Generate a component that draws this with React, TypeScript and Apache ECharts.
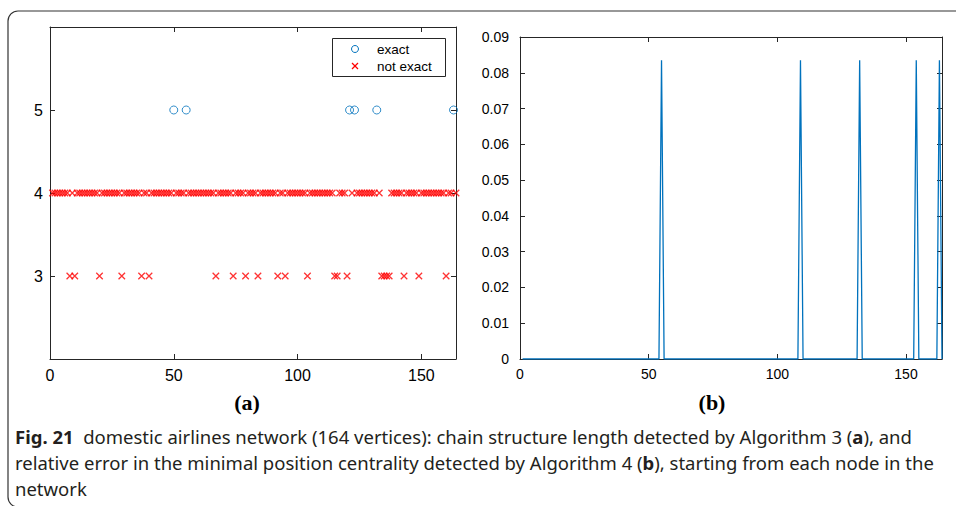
import React, { useEffect, useRef } from "react";
import * as echarts from "echarts";

// x-axis tick labels shared by both panels
const xTickValues = [0, 50, 100, 150];
const yTicksA = [3, 4, 5];

// (a) chain structure length detected from each node (nodes 1..164)
const chainLength = [
  4, 4, 4, 4, 4, 4, 4, 3, 4, 3,
  4, 4, 4, 4, 4, 4, 4, 4, 4, 3,
  4, 4, 4, 4, 4, 4, 4, 4, 3, 4,
  4, 4, 4, 4, 4, 4, 3, 4, 4, 3,
  4, 4, 4, 4, 4, 4, 4, 4, 4, 5,
  4, 4, 4, 4, 5, 4, 4, 4, 4, 4,
  4, 4, 4, 4, 4, 4, 3, 4, 4, 4,
  4, 4, 4, 3, 4, 4, 4, 4, 3, 4,
  4, 4, 4, 3, 4, 4, 4, 4, 4, 4,
  4, 3, 4, 4, 3, 4, 4, 4, 4, 4,
  4, 4, 4, 3, 4, 4, 4, 4, 4, 4,
  4, 4, 4, 4, 3, 3, 4, 4, 4, 3,
  5, 4, 5, 4, 4, 4, 4, 4, 4, 4,
  4, 5, 4, 3, 3, 3, 3, 4, 4, 4,
  4, 4, 3, 4, 4, 4, 4, 4, 3, 4,
  4, 4, 4, 4, 4, 4, 4, 4, 4, 3,
  4, 4, 5, 4,
];
// nodes whose detected chain length is exact
const exactNodes = [50, 55, 121, 123, 132, 163];

// (b) relative error in the minimal position centrality (nodes 1..164)
const relError = [
  0, 0, 0, 0, 0, 0, 0, 0, 0, 0,
  0, 0, 0, 0, 0, 0, 0, 0, 0, 0,
  0, 0, 0, 0, 0, 0, 0, 0, 0, 0,
  0, 0, 0, 0, 0, 0, 0, 0, 0, 0,
  0, 0, 0, 0, 0, 0, 0, 0, 0, 0,
  0, 0, 0, 0, 0.0835, 0, 0, 0, 0, 0,
  0, 0, 0, 0, 0, 0, 0, 0, 0, 0,
  0, 0, 0, 0, 0, 0, 0, 0, 0, 0,
  0, 0, 0, 0, 0, 0, 0, 0, 0, 0,
  0, 0, 0, 0, 0, 0, 0, 0, 0, 0,
  0, 0, 0, 0, 0, 0, 0, 0, 0.0835, 0,
  0, 0, 0, 0, 0, 0, 0, 0, 0, 0,
  0, 0, 0, 0, 0, 0, 0, 0, 0, 0,
  0, 0.0835, 0, 0, 0, 0, 0, 0, 0, 0,
  0, 0, 0, 0, 0, 0, 0, 0, 0, 0,
  0, 0, 0, 0.0835, 0, 0, 0, 0, 0, 0,
  0, 0, 0.0835, 0,
];

const legendNames = ["exact", "not exact"];
const panelLabels = ["(a)", "(b)"];
const captionLines = [
  "{b|Fig. 21}  domestic airlines network (164 vertices): chain structure length detected by Algorithm 3 ({b|a}), and",
  "relative error in the minimal position centrality detected by Algorithm 4 ({b|b}), starting from each node in the",
  "network",
];

const SANS = "'Liberation Sans', Arial, Helvetica, sans-serif";
const CAP = "'Noto Sans', 'Liberation Sans', sans-serif";
const SERIF = "'Liberation Serif', 'Times New Roman', serif";
const AXIS = "#262626";
const BLUE = "#0072BD";
const RED = "#FF0000";
const CROSS = "path://M0,0L10,10M0,10L10,0";

export default function App() {
  const ref = useRef<HTMLDivElement>(null);

  useEffect(() => {
    const chart = echarts.init(ref.current as HTMLDivElement, null, { renderer: "svg" });

    const exactPts: number[][] = [];
    const notExactPts: number[][] = [];
    chainLength.forEach((v, i) => {
      const node = i + 1;
      if (exactNodes.includes(node)) exactPts.push([node, v]);
      else notExactPts.push([node, v]);
    });
    const errPts = relError.map((v, i) => [i + 1, v]);

    const line = { lineStyle: { color: AXIS, width: 1 } };
    const tick = { inside: true, length: 5, lineStyle: { color: AXIS, width: 1 } };

    const xBase = (grid: number, pos: "bottom" | "top", labels: boolean, fs: number) => ({
      type: "value" as const,
      gridIndex: grid,
      position: pos,
      min: 0,
      max: 164,
      interval: 50,
      axisLine: { show: true, onZero: false, ...line },
      axisTick: tick,
      splitLine: { show: false },
      axisLabel: {
        show: labels,
        showMaxLabel: false,
        margin: 8,
        color: "#000",
        fontFamily: SANS,
        fontSize: fs,
        formatter: (v: number) => (xTickValues.includes(v) ? String(v) : ""),
      },
    });

    const legendX = 332.5;
    const legendY = 38.5;
    const rowY = [49, 66];

    const option: any = {
      animation: false,
      backgroundColor: "#ffffff",
      grid: [
        { left: 50, top: 27, width: 406, height: 332 },
        { left: 520, top: 37, width: 422, height: 322 },
      ],
      xAxis: [
        xBase(0, "bottom", true, 16),
        xBase(0, "top", false, 16),
        xBase(1, "bottom", true, 14),
        xBase(1, "top", false, 14),
      ],
      yAxis: [
        {
          type: "value",
          gridIndex: 0,
          position: "left",
          min: 2,
          max: 6,
          interval: 1,
          axisLine: { show: true, onZero: false, ...line },
          axisTick: tick,
          splitLine: { show: false },
          axisLabel: {
            margin: 7,
            color: "#000",
            fontFamily: SANS,
            fontSize: 16,
            formatter: (v: number) => (yTicksA.includes(v) ? String(v) : ""),
          },
        },
        {
          type: "value",
          gridIndex: 0,
          position: "right",
          min: 2,
          max: 6,
          interval: 1,
          axisLine: { show: true, onZero: false, ...line },
          axisTick: tick,
          splitLine: { show: false },
          axisLabel: { show: false },
        },
        {
          type: "value",
          gridIndex: 1,
          position: "left",
          min: 0,
          max: 0.09,
          interval: 0.01,
          axisLine: { show: true, onZero: false, ...line },
          axisTick: tick,
          splitLine: { show: false },
          axisLabel: {
            margin: 11,
            color: "#000",
            fontFamily: SANS,
            fontSize: 14,
            formatter: (v: number) => (v === 0 ? "0" : v.toFixed(2)),
          },
        },
        {
          type: "value",
          gridIndex: 1,
          position: "right",
          min: 0,
          max: 0.09,
          interval: 0.01,
          axisLine: { show: true, onZero: false, ...line },
          axisTick: tick,
          splitLine: { show: false },
          axisLabel: { show: false },
        },
      ],
      series: [
        {
          name: legendNames[0],
          type: "scatter",
          xAxisIndex: 0,
          yAxisIndex: 0,
          data: exactPts,
          symbol: "circle",
          symbolSize: 8,
          clip: false,
          itemStyle: { color: "rgba(0,0,0,0)", borderColor: BLUE, borderWidth: 1 },
          emphasis: { disabled: true },
          z: 3,
        },
        {
          name: legendNames[1],
          type: "scatter",
          xAxisIndex: 0,
          yAxisIndex: 0,
          data: notExactPts,
          symbol: CROSS,
          symbolSize: 6.5,
          clip: false,
          itemStyle: { color: "rgba(0,0,0,0)", borderColor: RED, borderWidth: 1.3 },
          emphasis: { disabled: true },
          z: 2,
        },
        {
          name: "relative error",
          type: "line",
          xAxisIndex: 2,
          yAxisIndex: 2,
          data: errPts,
          showSymbol: false,
          symbol: "none",
          lineStyle: { color: BLUE, width: 1.3 },
          emphasis: { disabled: true },
          z: 2,
        },
      ],
      graphic: [
        {
          type: "rect",
          shape: { x: 8, y: 11, width: 1000, height: 496, r: [10, 0, 0, 10] },
          style: { fill: "none", stroke: "#333", lineWidth: 1.2 },
          silent: true,
          z: -10,
        },
        // legend box
        {
          type: "rect",
          shape: { x: legendX, y: legendY, width: 113, height: 38 },
          style: { fill: "#ffffff", stroke: AXIS, lineWidth: 1 },
          z: 100,
        },
        {
          type: "circle",
          shape: { cx: 355, cy: rowY[0], r: 3.5 },
          style: { fill: "none", stroke: BLUE, lineWidth: 1 },
          z: 101,
        },
        {
          type: "line",
          shape: { x1: 352, y1: rowY[1] - 3, x2: 358, y2: rowY[1] + 3 },
          style: { stroke: RED, lineWidth: 1.3 },
          z: 101,
        },
        {
          type: "line",
          shape: { x1: 352, y1: rowY[1] + 3, x2: 358, y2: rowY[1] - 3 },
          style: { stroke: RED, lineWidth: 1.3 },
          z: 101,
        },
        ...legendNames.map((n, i) => ({
          type: "text",
          x: 377,
          y: rowY[i],
          z: 101,
          style: {
            text: n,
            font: `13.5px ${SANS}`,
            fill: "#000",
            align: "left",
            verticalAlign: "middle",
          },
        })),
        ...panelLabels.map((t, i) => ({
          type: "text",
          x: i === 0 ? 247 : 712,
          y: 402,
          style: {
            text: t,
            font: `bold 22px ${SERIF}`,
            fill: "#000",
            align: "center",
            verticalAlign: "middle",
          },
        })),
        ...captionLines.map((t, i) => ({
          type: "text",
          x: 15,
          y: 436 + i * 26,
          style: {
            text: t,
            font: `18.5px ${CAP}`,
            fill: "#231f20",
            align: "left",
            verticalAlign: "middle",
            rich: {
              b: { font: `bold 18.5px ${CAP}`, fill: "#231f20" },
            },
          },
        })),
      ],
    };

    chart.setOption(option);
    return () => chart.dispose();
  }, []);

  return (
    <div
      ref={ref}
      style={{ position: "fixed", left: 0, top: 0, width: 956, height: 506, background: "#fff" }}
    />
  );
}
